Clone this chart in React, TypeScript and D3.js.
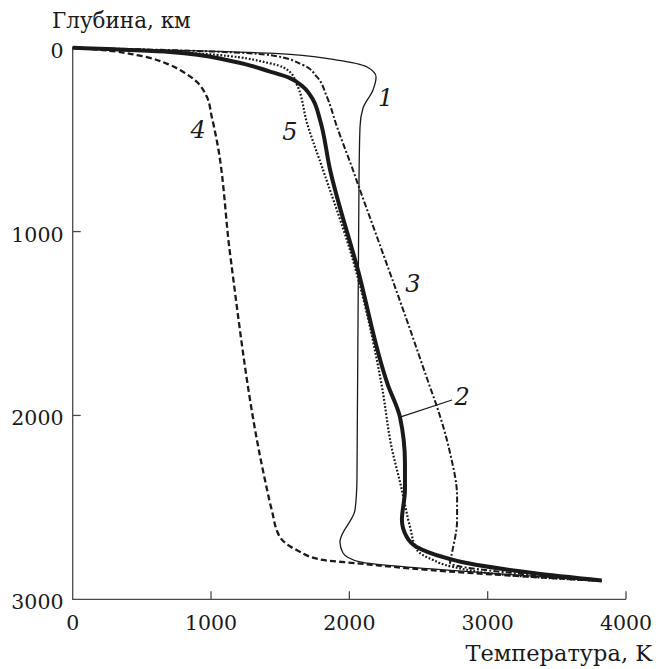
import { useEffect, useRef } from 'react';
import * as d3 from 'd3';

// Температурные профили мантии: [T, K ; глубина, км]
const curve1: [number, number][] = [
  [0, 0], [559, 10], [1426, 30], [1911, 67], [2128, 105], [2193, 159], [2171, 230],
  [2099, 328], [2077, 431], [2070, 703], [2055, 2351], [2041, 2514], [1932, 2689],
  [1954, 2748], [2077, 2797], [2995, 2857], [3824, 2900],
];
const curve2: [number, number][] = [
  [0, 0], [703, 23], [1137, 71], [1427, 130], [1571, 165], [1665, 212], [1738, 284],
  [1788, 393], [1861, 665], [2062, 1209], [2279, 1835], [2366, 2009], [2402, 2259],
  [2402, 2406], [2380, 2569], [2415, 2661], [2487, 2715], [2677, 2770], [2850, 2803],
  [3327, 2857], [3824, 2898],
];
const curve3: [number, number][] = [
  [0, 0], [703, 13], [1426, 40], [1665, 94], [1766, 159], [1838, 268], [1911, 431],
  [2026, 665], [2077, 774], [2208, 1046], [2415, 1481], [2583, 1845], [2634, 1954],
  [2728, 2204], [2779, 2444], [2779, 2569], [2742, 2748], [2728, 2802], [3327, 2868],
  [3824, 2900],
];
const curve4: [number, number][] = [
  [0, 0], [219, 13], [463, 40], [703, 94], [797, 131], [896, 185], [969, 266],
  [1005, 375], [1041, 502], [1137, 1117], [1390, 2351], [1439, 2514], [1498, 2661],
  [1619, 2732], [1809, 2786], [2053, 2804], [2583, 2841], [3824, 2900],
];
const curve5: [number, number][] = [
  [0, 0], [920, 32], [1427, 85], [1571, 132], [1622, 203], [1694, 410], [1810, 665],
  [2026, 1155], [2236, 1845], [2305, 2172], [2375, 2390], [2439, 2607], [2489, 2732],
  [2605, 2786], [2749, 2824], [3327, 2879], [3824, 2900],
];

const xTicks = [0, 1000, 2000, 3000, 4000];
const yTicks = [0, 1000, 2000, 3000];

// подписи кривых: номер, T, глубина
const curveLabels: [string, number, number][] = [
  ['1', 2263, 270],
  ['2', 2816, 1897],
  ['3', 2460, 1280],
  ['4', 906, 442],
  ['5', 1571, 453],
];
// выноска к кривой 2
const leader2: [number, number][] = [[2366, 2009], [2742, 1916]];

const W = 670;
const H = 669;
const margin = { left: 72.7, right: 44, top: 47.7, bottom: 69.7 };
const FONT = "'DejaVu Serif', serif";

const App = () => {
  const svgRef = useRef<SVGSVGElement>(null);

  useEffect(() => {
    if (!svgRef.current) return;
    const svg = d3.select(svgRef.current);
    svg.selectAll('*').remove();

    const x = d3.scaleLinear().domain([0, 4000]).range([margin.left, W - margin.right]);
    const y = d3.scaleLinear().domain([0, 3000]).range([margin.top, H - margin.bottom]);
    const ink = '#1a1a1a';

    // оси
    const axisCol = '#4a4a4a';
    svg.append('path')
      .attr('d', `M${x(0)},${y(0)}V${y(3000)}H${x(4000)}`)
      .attr('fill', 'none').attr('stroke', axisCol).attr('stroke-width', 1.3);

    xTicks.filter(t => t > 0).forEach(t => {
      svg.append('line')
        .attr('x1', x(t)).attr('x2', x(t)).attr('y1', y(3000)).attr('y2', y(3000) - 8)
        .attr('stroke', axisCol).attr('stroke-width', 1.3);
    });
    yTicks.filter(t => t > 0 && t < 3000).forEach(t => {
      svg.append('line')
        .attr('x1', x(0)).attr('x2', x(0) + 8).attr('y1', y(t)).attr('y2', y(t))
        .attr('stroke', axisCol).attr('stroke-width', 1.3);
    });

    svg.append('g').selectAll('text').data(xTicks).enter().append('text')
      .attr('x', d => x(d)).attr('y', y(3000) + 31)
      .attr('text-anchor', 'middle')
      .style('font-family', FONT).style('font-size', '20.5px').attr('fill', ink)
      .text(d => d);

    svg.append('g').selectAll('text').data(yTicks).enter().append('text')
      .attr('x', 63.5).attr('y', d => y(d) + 10)
      .attr('text-anchor', 'end')
      .style('font-family', FONT).style('font-size', '20.5px').attr('fill', ink)
      .text(d => d);

    svg.append('text')
      .attr('x', 52).attr('y', 28)
      .style('font-family', FONT).style('font-size', '21.5px').attr('fill', ink)
      .text('Глубина, км');
    svg.append('text')
      .attr('x', 652).attr('y', 661).attr('text-anchor', 'end')
      .style('font-family', FONT).style('font-size', '22.5px').attr('fill', ink)
      .text('Температура, K');

    const line = d3.line<[number, number]>()
      .x(d => x(d[0])).y(d => y(d[1]))
      .curve(d3.curveMonotoneY);

    const series = [
      { data: curve4, w: 2.3, dash: '6,3.2' },
      { data: curve1, w: 1.3, dash: null },
      { data: curve3, w: 2, dash: '6,2.2,2,2.2' },
      { data: curve5, w: 2.2, dash: '1.8,1.8' },
      { data: curve2, w: 4, dash: null },
    ];
    series.forEach(s => {
      const p = svg.append('path')
        .attr('d', line(s.data))
        .attr('fill', 'none')
        .attr('stroke', ink)
        .attr('stroke-width', s.w)
        .attr('stroke-linejoin', 'round');
      if (s.dash) p.attr('stroke-dasharray', s.dash);
    });

    svg.append('line')
      .attr('x1', x(leader2[0][0])).attr('y1', y(leader2[0][1]))
      .attr('x2', x(leader2[1][0])).attr('y2', y(leader2[1][1]))
      .attr('stroke', ink).attr('stroke-width', 1.2);

    svg.append('g').selectAll('text').data(curveLabels).enter().append('text')
      .attr('x', d => x(d[1])).attr('y', d => y(d[2]) + 9)
      .attr('text-anchor', 'middle')
      .style('font-family', FONT).style('font-style', 'italic')
      .style('font-size', '24px').attr('fill', ink)
      .text(d => d[0]);
  }, []);

  return (
    <svg ref={svgRef} width={W} height={H}
      style={{ position: 'absolute', left: 0, top: 0, background: '#fff', display: 'block' }} />
  );
};

export default App;
